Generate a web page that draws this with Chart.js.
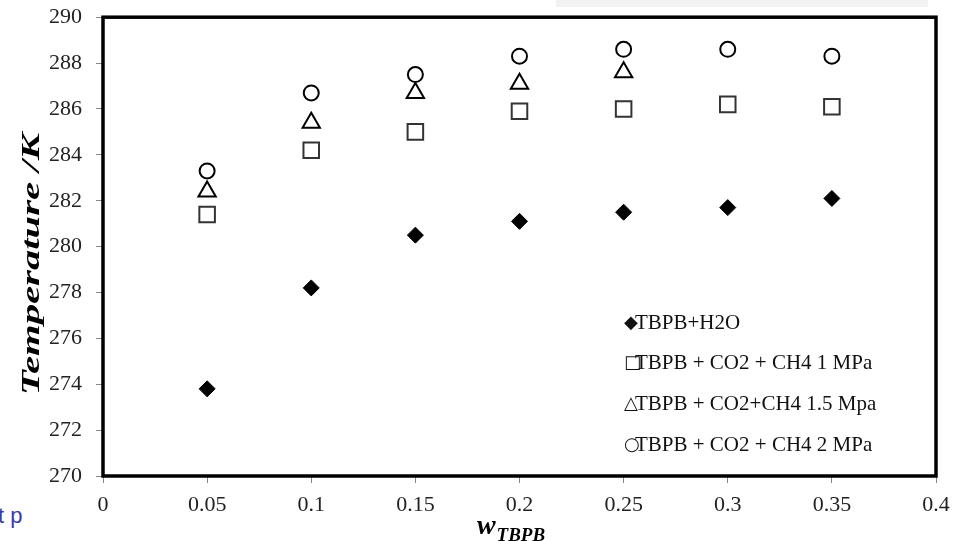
<!DOCTYPE html>
<html>
<head>
<meta charset="utf-8">
<script src="https://cdn.jsdelivr.net/npm/chart.js@4/dist/chart.umd.min.js"></script>
<style>
  html, body { margin: 0; padding: 0; background: #fff; }
  #wrap { position: relative; width: 962px; height: 541px; overflow: hidden; }
  #band { position: absolute; left: 556px; top: 0; width: 372px; height: 7px; background: #f2f2f2; }
  #frag { position: absolute; left: -2px; top: 503px; font: 22px 'Liberation Sans', Arial, sans-serif; color: #3a3aa8; }
  canvas { position: absolute; left: 0; top: -10px; }
</style>
</head>
<body>
<div id="wrap">
  <div id="band"></div>
  <div id="frag">t p</div>
  <canvas id="c" width="962" height="551"></canvas>
</div>
<script>
// ---- data ----
const xValues = [0.05, 0.1, 0.15, 0.2, 0.25, 0.3, 0.35];
const tbpbH2O      = [273.8, 278.2, 280.5, 281.1, 281.5, 281.7, 282.1];
const co2ch4_1MPa  = [281.4, 284.2, 285.0, 285.9, 286.0, 286.2, 286.1];
const co2ch4_15MPa = [282.4, 285.4, 286.7, 287.1, 287.6, null, null];
const co2ch4_2MPa  = [283.3, 286.7, 287.5, 288.3, 288.6, 288.6, 288.3];
const seriesNames = ['TBPB+H2O', 'TBPB + CO2 + CH4 1 MPa', 'TBPB + CO2+CH4 1.5 Mpa', 'TBPB + CO2 + CH4 2 MPa'];
const seriesSymbols = ['◆', '□', '△', '○'];
const xTickValues = [0, 0.05, 0.1, 0.15, 0.2, 0.25, 0.3, 0.35, 0.4];
const xTickLabels = ['0', '0.05', '0.1', '0.15', '0.2', '0.25', '0.3', '0.35', '0.4'];
const yTickValues = [270, 272, 274, 276, 278, 280, 282, 284, 286, 288, 290];
const xTitleMain = 'w';
const xTitleSub = 'TBPB';
const yTitle = 'Temperature /K';

const pts = arr => xValues.map((x, i) => ({ x: x, y: arr[i] })).filter(p => p.y !== null);
const SERIF = "'Liberation Serif', 'Times New Roman', serif";

const framePlugin = {
  id: 'frame',
  afterDatasetsDraw(chart) {
    const { ctx, chartArea: a } = chart;
    ctx.save();
    ctx.strokeStyle = '#000';
    ctx.lineWidth = 3.5;
    ctx.strokeRect(a.left, a.top, a.right - a.left, a.bottom - a.top);
    ctx.restore();
  },
  afterDraw(chart) {
    const { ctx, chartArea: a } = chart;
    ctx.save();
    // legend inside plot
    ctx.fillStyle = '#111';
    ctx.textAlign = 'left';
    ctx.textBaseline = 'middle';
    const offs = [153, 113, 72, 31];
    seriesNames.forEach((s, i) => {
      const x = a.right - 312, y = a.bottom - offs[i];
      ctx.font = "18px 'DejaVu Sans'";
      ctx.fillText(seriesSymbols[i], x, y);
      ctx.font = "21px " + SERIF;
      ctx.fillText(s, x + 11, y);
    });
    // y title (stretched along its length like the reference)
    ctx.translate(32, a.top + 247);
    ctx.rotate(-Math.PI / 2);
    ctx.font = "bold italic 26px " + SERIF;
    const tw = ctx.measureText(yTitle).width;
    ctx.scale(262 / tw, 1);
    ctx.textAlign = 'center';
    ctx.fillStyle = '#000';
    ctx.fillText(yTitle, 0, 0);
    ctx.restore();
    // x title with subscript
    ctx.save();
    ctx.fillStyle = '#000';
    ctx.textBaseline = 'alphabetic';
    ctx.textAlign = 'left';
    const f1 = "bold italic 28px " + SERIF, f2 = "bold italic 19px " + SERIF;
    ctx.font = f1; const w1 = ctx.measureText(xTitleMain).width;
    ctx.font = f2; const w2 = ctx.measureText(xTitleSub).width;
    const cx = (a.left + a.right) / 2 - 9;
    const x0 = cx - (w1 + w2) / 2;
    ctx.font = f1; ctx.fillText(xTitleMain, x0, a.bottom + 58);
    ctx.font = f2; ctx.fillText(xTitleSub, x0 + w1 + 1, a.bottom + 65);
    ctx.restore();
  }
};

new Chart(document.getElementById('c'), {
  type: 'scatter',
  data: {
    datasets: [
      { label: seriesNames[0], data: pts(tbpbH2O), pointStyle: 'rectRot', pointRadius: 8, backgroundColor: '#000', borderColor: '#000', borderWidth: 1 },
      { label: seriesNames[1], data: pts(co2ch4_1MPa), pointStyle: 'rect', pointRadius: 11, backgroundColor: '#fff', borderColor: '#333', borderWidth: 2 },
      { label: seriesNames[2], data: pts(co2ch4_15MPa), pointStyle: 'triangle', pointRadius: 10, backgroundColor: '#fff', borderColor: '#000', borderWidth: 2 },
      { label: seriesNames[3], data: pts(co2ch4_2MPa), pointStyle: 'circle', pointRadius: 7.5, backgroundColor: '#fff', borderColor: '#000', borderWidth: 2 }
    ]
  },
  options: {
    responsive: false,
    animation: false,
    layout: { padding: { left: 0, top: 7, right: 26, bottom: 0 } },
    plugins: { legend: { display: false }, tooltip: { enabled: false } },
    scales: {
      x: {
        type: 'linear', min: 0, max: 0.4,
        afterBuildTicks: s => { s.ticks = xTickValues.map(v => ({ value: v })); },
        afterFit: s => { s.height = 65; },
        border: { display: false },
        grid: { display: true, drawOnChartArea: false, drawTicks: true, tickLength: 7, tickColor: '#888' },
        ticks: { autoSkip: false, maxRotation: 0, padding: 9, color: '#222', font: { family: SERIF, size: 22 },
                 callback: (v, i) => xTickLabels[i] }
      },
      y: {
        type: 'linear', min: 270, max: 290,
        afterBuildTicks: s => { s.ticks = yTickValues.map(v => ({ value: v })); },
        afterFit: s => { s.width = 103; },
        border: { display: false },
        grid: { display: true, drawOnChartArea: false, drawTicks: true, tickLength: 7, tickColor: '#888' },
        ticks: { autoSkip: false, padding: 14, color: '#222', font: { family: SERIF, size: 22 } }
      }
    }
  },
  plugins: [framePlugin]
});
</script>
</body>
</html>
